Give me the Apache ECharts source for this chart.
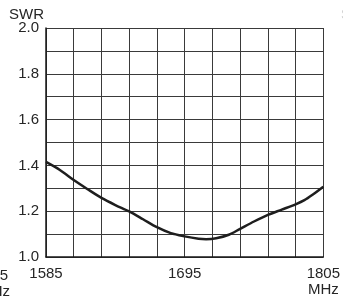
<!DOCTYPE html>
<html>
<head>
<meta charset="utf-8">
<script src="https://cdn.jsdelivr.net/npm/echarts@6/dist/echarts.min.js"></script>
<style>
  html, body { margin: 0; padding: 0; background: #fff; }
  #chart { width: 343px; height: 298px; }
</style>
</head>
<body>
<div id="chart"></div>
<script>
// SWR vs frequency
const freqMHz = [1585, 1596, 1607, 1618, 1629, 1640, 1651, 1662, 1673, 1684, 1695, 1706, 1712, 1720, 1730, 1739, 1750, 1761, 1772, 1783, 1790, 1797, 1805];
const swr = [1.415, 1.38, 1.336, 1.296, 1.258, 1.227, 1.199, 1.165, 1.13, 1.104, 1.09, 1.08, 1.078, 1.082, 1.097, 1.123, 1.155, 1.184, 1.207, 1.23, 1.248, 1.274, 1.307];
const xLabels = [1585, 1695, 1805];
const yLabels = [1.0, 1.2, 1.4, 1.6, 1.8, 2.0];

const F0 = 1585;   // x axis runs in offsets from F0 so the 22 MHz grid starts on the edge
const font = 'Liberation Sans, Arial, sans-serif';
const textColor = '#262626';
const gridColor = '#3a3a3a';

const chart = echarts.init(document.getElementById('chart'));
chart.setOption({
  animation: false,
  grid: { left: 46, right: 18, top: 28, bottom: 39 },
  xAxis: {
    type: 'value',
    min: 0,
    max: 220,
    interval: 22,
    axisLine: { show: true, lineStyle: { color: '#1a1a1a', width: 1.5 } },
    axisTick: { show: false },
    splitLine: { show: true, lineStyle: { color: gridColor, width: 1 } },
    axisLabel: {
      margin: 9,
      color: textColor,
      fontFamily: font,
      fontSize: 15,
      lineHeight: 16,
      formatter: (v) => {
        const f = Math.round(v + F0);
        if (!xLabels.includes(f)) return '';
        return f === 1805 ? f + '\nMHz' : String(f);
      }
    }
  },
  yAxis: {
    type: 'value',
    min: 1.0,
    max: 2.0,
    interval: 0.1,
    axisLine: { show: true, lineStyle: { color: '#1a1a1a', width: 1.5 } },
    axisTick: { show: false },
    splitLine: { show: true, lineStyle: { color: gridColor, width: 1 } },
    axisLabel: {
      margin: 7,
      color: textColor,
      fontFamily: font,
      fontSize: 15,
      formatter: (v) => {
        const r = Math.round(v * 10) / 10;
        return yLabels.some(l => Math.abs(l - r) < 1e-6) ? r.toFixed(1) : '';
      }
    }
  },
  graphic: [
    { type: 'text', x: 9, y: 15, style: { text: 'SWR', font: '15px ' + font, fill: textColor, align: 'left', verticalAlign: 'middle' } },
    // bits of the neighbouring charts that were cut into the picture
    { type: 'text', x: 8, y: 276, style: { text: '1805', font: '15px ' + font, fill: textColor, align: 'right', verticalAlign: 'middle' } },
    { type: 'text', x: 10, y: 292, style: { text: 'MHz', font: '15px ' + font, fill: textColor, align: 'right', verticalAlign: 'middle' } },
    { type: 'text', x: 341, y: 15, style: { text: 'SWR', font: '15px ' + font, fill: '#c8c8c8', align: 'left', verticalAlign: 'middle' } }
  ],
  series: [{
    type: 'line',
    data: freqMHz.map((f, i) => [f - F0, swr[i]]),
    smooth: 0.3,
    symbol: 'none',
    lineStyle: { color: '#1e1e1e', width: 2.5 }
  }]
});
</script>
</body>
</html>
